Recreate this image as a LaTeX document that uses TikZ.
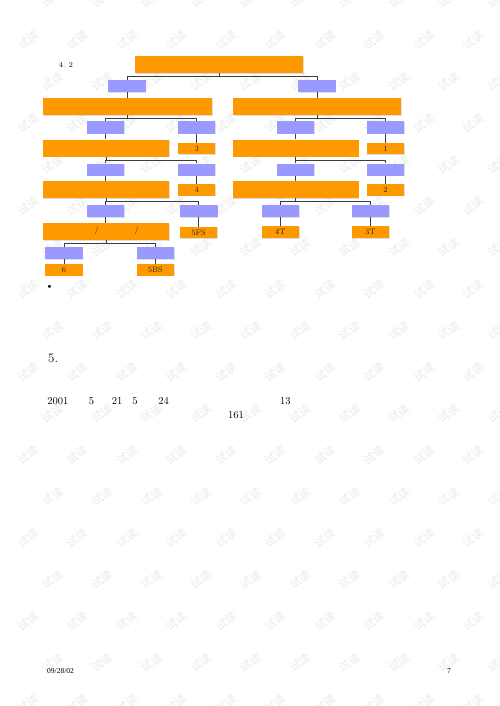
\documentclass[tikz,border=0pt]{standalone}
\usepackage{fontspec}
\newfontfamily\cjk{Noto Sans CJK SC}
\newfontfamily\timesfont{Liberation Serif}
\usetikzlibrary{shadows}
\definecolor{boxorange}{RGB}{255,153,0}
\definecolor{boxblue}{RGB}{153,153,255}
\definecolor{linegray}{RGB}{60,60,60}

\begin{document}
\begin{tikzpicture}[x=1pt,y=-1pt,
  obox/.style={fill=boxorange,minimum height=17pt,inner sep=0pt,
    drop shadow={shadow xshift=0.7pt,shadow yshift=-0.7pt,opacity=0.25}},
  pbox/.style={fill=boxblue,minimum width=37.5pt,minimum height=12pt,inner sep=0pt,
    drop shadow={shadow xshift=0.7pt,shadow yshift=-0.7pt,opacity=0.25}},
  nbox/.style={obox,minimum width=37.5pt,minimum height=11.5pt,
    font=\fontsize{8}{8}\selectfont,text=black!85},
  conn/.style={draw=linegray,line width=0.8pt},
  wmark/.style={text=black!8,rotate=35,font=\cjk\fontsize{11.5}{11.5}\selectfont},
  txt/.style={inner sep=0pt,font=\fontsize{10.5}{10.5}\selectfont}]
\useasboundingbox[fill=white] (0,0) rectangle (499,706);

\foreach \k in {-1,...,16}{
  \foreach \j in {0,...,10}{
    \pgfmathsetmacro\wx{28+49.5*\j+24.7*mod(\k+2,2)}
    \pgfmathsetmacro\wy{40+41.5*\k}
    \node[wmark](wm-\k-\j) at (\wx,\wy) {试读};
  }}

\node[obox,minimum width=168pt](root) at (219,64.5) {};
\node[pbox](l1) at (127,86) {};
\node[pbox](r1) at (317,86) {};
\node[obox,minimum width=169pt](l2) at (127.5,106.5) {};
\node[obox,minimum width=168pt](r2) at (317,106.5) {};
\node[pbox](l3a) at (105.7,127.5) {};
\node[pbox](l3b) at (196.7,127.5) {};
\node[obox,minimum width=126pt](l4) at (106,148) {};
\node[nbox](n3) at (196.7,148.5) {3};
\node[pbox](r3a) at (295.5,127.5) {};
\node[pbox](r3b) at (385.5,127.5) {};
\node[obox,minimum width=126pt](r4) at (295.5,148) {};
\node[nbox](n1) at (385.5,148.5) {1};
\node[pbox](l5a) at (105.7,169.5) {};
\node[pbox](l5b) at (196.7,169.5) {};
\node[obox,minimum width=126pt](l6) at (106,189.7) {};
\node[nbox](n4) at (196.7,190) {4};
\node[pbox](r5a) at (295.5,169.5) {};
\node[pbox](r5b) at (385.5,169.5) {};
\node[obox,minimum width=126pt](r6) at (295.5,189.7) {};
\node[nbox](n2) at (385.5,190) {2};
\node[pbox](l7a) at (105.7,211) {};
\node[pbox](l7b) at (198.8,211) {};
\node[obox,minimum width=126pt](l8) at (106,231.3) {};
\node[font=\fontsize{8}{8}\selectfont,text=black!85](sl1) at (96.7,230.5) {/};
\node[font=\fontsize{8}{8}\selectfont,text=black!85](sl2) at (136.7,230.5) {/};
\node[nbox](n5fs) at (198.7,232.5) {5FS};
\node[pbox](l9a) at (64,253) {};
\node[pbox](l9b) at (155.3,253) {};
\node[nbox](n6) at (64,270) {6};
\node[nbox](n5bs) at (155.3,270) {5BS};
\node[pbox](r7a) at (280.3,211) {};
\node[pbox](r7b) at (370.3,211) {};
\node[nbox](n4t) at (280.3,232.2) {4T};
\node[nbox](n3t) at (370.3,232.2) {3T};

\foreach \p/\a/\b in {root/l1/r1,l2/l3a/l3b,r2/r3a/r3b,l4/l5a/l5b,r4/r5a/r5b,l6/l7a/l7b,r6/r7a/r7b,l8/l9a/l9b}{
  \draw[conn] (\p.south) -- ++(0,3.3) -| (\a.north);
  \draw[conn] (\p.south) ++(0,3.3) -| (\b.north);
}
\foreach \a/\b in {l1/l2,r1/r2,l3a/l4,l3b/n3,r3a/r4,r3b/n1,l5a/l6,l5b/n4,r5a/r6,r5b/n2,l7a/l8,l7b/n5fs,l9a/n6,l9b/n5bs,r7a/n4t,r7b/n3t}
  \draw[conn] (\a.south) -- (\a.south |- \b.north);

\node[txt,font=\fontsize{7.5}{7.5}\selectfont](sec) at (66,65) {4. 2};
\node[txt,font=\fontsize{11}{11}\selectfont](dot) at (49.5,287) {\textbullet};
\node[txt,font=\fontsize{13}{13}\selectfont,anchor=west](h5) at (48,358.7) {5.};
\node[txt](y2001) at (57.8,401) {2001};
\node[txt](m5) at (91.5,401) {5};
\node[txt](d21) at (117,401) {21};
\node[txt](m5b) at (135,401) {5};
\node[txt](d24) at (163.7,401) {24};
\node[txt](n13) at (285.3,401) {13};
\node[txt](n161) at (236,415.5) {161};
\node[txt,font=\timesfont\fontsize{7.5}{7.5}\selectfont,anchor=west](date) at (47,671) {09/28/02};
\node[txt,font=\timesfont\fontsize{7.5}{7.5}\selectfont](page) at (449,671) {7};
\end{tikzpicture}
\end{document}
